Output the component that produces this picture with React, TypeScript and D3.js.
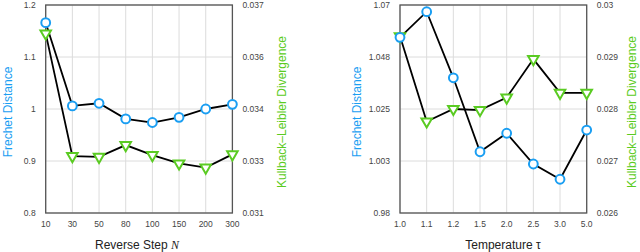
import React from "react";
import * as d3 from "d3";

const stepCats = ["10", "30", "50", "80", "100", "150", "200", "300"];
const stepFD = [1.166, 1.006, 1.011, 0.981, 0.974, 0.984, 1.0, 1.009];
const stepKL = [0.03618, 0.03264, 0.03262, 0.03296, 0.03267, 0.03243, 0.03231, 0.03269];
const stepFDTicks = [0.8, 0.9, 1.0, 1.1, 1.2];
const stepFDTickLabels = ["0.8", "0.9", "1", "1.1", "1.2"];
const stepKLTicks = [0.031, 0.0325, 0.034, 0.0355, 0.037];
const stepKLTickLabels = ["0.031", "0.033", "0.034", "0.036", "0.037"];

const tempCats = ["1.0", "1.1", "1.2", "1.5", "2.0", "2.5", "3.0", "5.0"];
const tempFD = [1.056, 1.0671, 1.0385, 1.0065, 1.0145, 1.0012, 0.9946, 1.0159];
const tempKL = [0.0294, 0.02776, 0.028, 0.02798, 0.02822, 0.02896, 0.02831, 0.02831];
const tempFDTicks = [0.98, 1.0025, 1.025, 1.0475, 1.07];
const tempFDTickLabels = ["0.98", "1.003", "1.025", "1.048", "1.07"];
const tempKLTicks = [0.026, 0.027, 0.028, 0.029, 0.03];
const tempKLTickLabels = ["0.026", "0.027", "0.028", "0.029", "0.03"];

const BLUE = "#1a9ef2";
const GREEN = "#5acb22";
const FONT = "'Liberation Sans', Arial, sans-serif";

type PanelProps = {
  x0: number;
  cats: string[];
  fd: number[];
  kl: number[];
  fdTicks: number[];
  fdLabels: string[];
  klTicks: number[];
  klLabels: string[];
  xLabel: React.ReactNode;
  xLabelCenter: number;
  leftLabelX: number;
  rightLabelX: number;
};

function Panel(p: PanelProps) {
  const W = 186.7;
  const top = 5;
  const bottom = 213;
  const x = d3.scalePoint<string>().domain(p.cats).range([p.x0, p.x0 + W]).padding(0);
  const yL = d3.scaleLinear().domain([p.fdTicks[0], p.fdTicks[p.fdTicks.length - 1]]).range([bottom, top]);
  const yR = d3.scaleLinear().domain([p.klTicks[0], p.klTicks[p.klTicks.length - 1]]).range([bottom, top]);
  const fdLine = d3.line<number>().x((_, i) => x(p.cats[i])!).y((d) => yL(d));
  const klLine = d3.line<number>().x((_, i) => x(p.cats[i])!).y((d) => yR(d));
  const tri = d3.symbol().type(d3.symbolTriangle).size(48)();
  return (
    <g>
      {p.cats.map((c) => (
        <line key={"gx" + c} x1={x(c)} x2={x(c)} y1={top} y2={bottom} stroke="#dcdcdc" strokeWidth={1} />
      ))}
      {p.fdTicks.map((t) => (
        <line key={"gy" + t} x1={p.x0} x2={p.x0 + W} y1={yL(t)} y2={yL(t)} stroke="#dcdcdc" strokeWidth={1} />
      ))}
      <rect x={p.x0} y={top} width={W} height={bottom - top} fill="none" stroke="#555" strokeWidth={1.3} />
      {p.fdTicks.map((t, i) => (
        <text key={"tl" + t} x={p.x0 - 10} y={yL(t) + 3} textAnchor="end" fontSize={8.5} fill="#444" fontFamily={FONT}>
          {p.fdLabels[i]}
        </text>
      ))}
      {p.klTicks.map((t, i) => (
        <text key={"tr" + t} x={p.x0 + W + 10} y={yR(t) + 3} textAnchor="start" fontSize={8.5} fill="#444" fontFamily={FONT}>
          {p.klLabels[i]}
        </text>
      ))}
      {p.cats.map((c) => (
        <text key={"tx" + c} x={x(c)} y={227} textAnchor="middle" fontSize={8.5} fill="#444" fontFamily={FONT}>
          {c}
        </text>
      ))}
      <path d={klLine(p.kl)!} fill="none" stroke="#000" strokeWidth={1.8} />
      <path d={fdLine(p.fd)!} fill="none" stroke="#000" strokeWidth={1.8} />
      {p.kl.map((v, i) => (
        <path
          key={"k" + i}
          d={tri!}
          transform={`translate(${x(p.cats[i])},${yR(v)}) rotate(180)`}
          fill="#fff"
          stroke={GREEN}
          strokeWidth={2}
        />
      ))}
      {p.fd.map((v, i) => (
        <circle key={"f" + i} cx={x(p.cats[i])} cy={yL(v)} r={4.4} fill="#fff" stroke={BLUE} strokeWidth={2} />
      ))}
      <text
        transform={`translate(${p.leftLabelX},112) rotate(-90)`}
        textAnchor="middle"
        fontSize={12}
        fill={BLUE}
        fontFamily={FONT}
      >
        Frechet Distance
      </text>
      <text
        transform={`translate(${p.rightLabelX},112) rotate(-90)`}
        textAnchor="middle"
        fontSize={12}
        fill={GREEN}
        fontFamily={FONT}
      >
        Kullback–Leibler Divergence
      </text>
      <text x={p.xLabelCenter} y={249} textAnchor="middle" fontSize={12} fill="#222" fontFamily={FONT}>
        {p.xLabel}
      </text>
    </g>
  );
}

export default function App() {
  return (
    <div style={{ position: "fixed", left: 0, top: 0 }}>
      <svg width={640} height={252} style={{ display: "block", background: "#fff" }}>
        <Panel
          x0={45.7}
          cats={stepCats}
          fd={stepFD}
          kl={stepKL}
          fdTicks={stepFDTicks}
          fdLabels={stepFDTickLabels}
          klTicks={stepKLTicks}
          klLabels={stepKLTickLabels}
          xLabel={
            <>
              Reverse Step <tspan fontFamily="'Liberation Serif', serif" fontStyle="italic">N</tspan>
            </>
          }
          xLabelCenter={137}
          leftLabelX={11.5}
          rightLabelX={286}
        />
        <Panel
          x0={400}
          cats={tempCats}
          fd={tempFD}
          kl={tempKL}
          fdTicks={tempFDTicks}
          fdLabels={tempFDTickLabels}
          klTicks={tempKLTicks}
          klLabels={tempKLTickLabels}
          xLabel={<>Temperature τ</>}
          xLabelCenter={503}
          leftLabelX={361}
          rightLabelX={635.5}
        />
      </svg>
    </div>
  );
}
